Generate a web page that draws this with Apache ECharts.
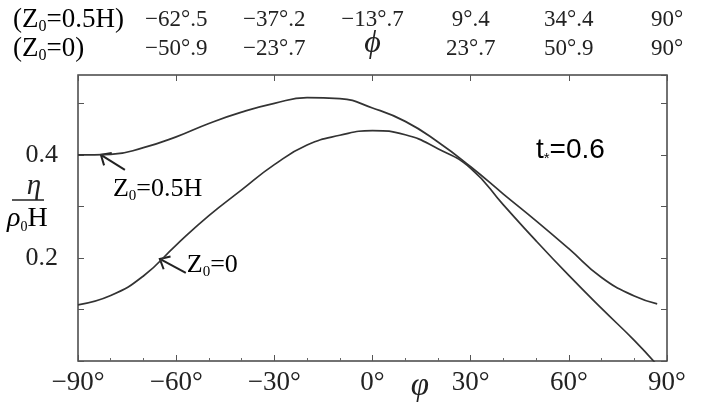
<!DOCTYPE html>
<html>
<head>
<meta charset="utf-8">
<script src="https://cdn.jsdelivr.net/npm/echarts@6/dist/echarts.min.js"></script>
<style>
  html, body { margin: 0; padding: 0; background: #fff; }
  #chart { width: 706px; height: 405px; }
</style>
</head>
<body>
<div id="chart"></div>
<script>
// Longitude φ (degrees) at which the surface elevation is sampled
const phi = [-90, -80, -70, -60, -50, -40, -30, -20, -10, 0, 10, 20, 30, 40, 50, 60, 70, 80, 87];
// η / (ρ0 H) for a source at Z0 = 0.5H
const etaHalfH = [0.400, 0.401, 0.414, 0.435, 0.461, 0.483, 0.500, 0.511, 0.509, 0.491, 0.465, 0.425, 0.377, 0.324, 0.272, 0.218, 0.162, 0.126, 0.111];
// η / (ρ0 H) for a source at Z0 = 0
const etaZ0 = [0.109, 0.127, 0.165, 0.225, 0.282, 0.332, 0.381, 0.419, 0.438, 0.447, 0.439, 0.412, 0.374, 0.303, 0.233, 0.166, 0.102, 0.040, -0.008];

// Tick labels
const bottomLabels = ['−90°', '−60°', '−30°', '0°', '30°', '60°', '90°'];
const topLabelsHalfH = ['', '−62°.5', '−37°.2', '−13°.7', '9°.4', '34°.4', '90°'];
const topLabelsZ0 = ['', '−50°.9', '−23°.7', '{big|ϕ}', '23°.7', '50°.9', '90°'];
const yLabels = ['', '', '0.2', '', '0.4', '', ''];

const SERIF = 'Liberation Serif';
const INK = '#222';
const LINE = '#333';

const chart = echarts.init(document.getElementById('chart'), null, { renderer: 'canvas' });

const idx30 = v => Math.round((v + 90) / 30);

const tickStyle = { inside: true, length: 6, lineStyle: { color: '#555', width: 1 } };
const noLine = { show: false, onZero: false };

chart.setOption({
  backgroundColor: '#fff',
  animation: false,
  grid: {
    left: 78, right: 39, top: 75, bottom: 44,
    show: true, borderColor: '#444', borderWidth: 1.5, backgroundColor: 'transparent'
  },
  xAxis: [
    {
      type: 'value', position: 'bottom', min: -90, max: 90, interval: 30,
      axisLine: noLine,
      axisTick: tickStyle,
      minorTick: { show: true, splitNumber: 3, length: 3, lineStyle: { color: '#666' } },
      splitLine: { show: false },
      axisLabel: {
        formatter: v => bottomLabels[idx30(v)] || '',
        fontFamily: SERIF, fontSize: 27, color: INK, margin: 8,
        showMinLabel: true, showMaxLabel: true, hideOverlap: false
      }
    },
    {
      type: 'value', position: 'top', min: -90, max: 90, interval: 30,
      axisLine: noLine,
      axisTick: tickStyle,
      splitLine: { show: false },
      axisLabel: {
        formatter: v => topLabelsZ0[idx30(v)] || '',
        fontFamily: SERIF, fontSize: 23, color: INK, margin: 15,
        showMinLabel: true, showMaxLabel: true, hideOverlap: false,
        rich: { big: { fontFamily: SERIF, fontStyle: 'italic', fontSize: 32, color: INK } }
      }
    },
    {
      type: 'value', position: 'top', min: -90, max: 90, interval: 30,
      axisLine: noLine,
      axisTick: { show: false },
      splitLine: { show: false },
      axisLabel: {
        formatter: v => topLabelsHalfH[idx30(v)] || '',
        fontFamily: SERIF, fontSize: 23, color: INK, margin: 44,
        showMinLabel: true, showMaxLabel: true, hideOverlap: false
      }
    }
  ],
  yAxis: [
    {
      type: 'value', position: 'left', min: 0, max: 0.555, interval: 0.1,
      axisLine: noLine,
      axisTick: tickStyle,
      splitLine: { show: false },
      axisLabel: {
        formatter: v => yLabels[Math.round(v * 10)] || '',
        fontFamily: SERIF, fontSize: 26, color: INK, margin: 20,
        showMaxLabel: false
      }
    },
    {
      type: 'value', position: 'right', min: 0, max: 0.555, interval: 0.1,
      axisLine: noLine,
      axisTick: tickStyle,
      splitLine: { show: false },
      axisLabel: { show: false }
    }
  ],
  series: [
    {
      name: 'Z0=0.5H', type: 'line', xAxisIndex: 0, yAxisIndex: 0,
      data: phi.map((p, i) => [p, etaHalfH[i]]),
      smooth: 0.5, symbol: 'none', clip: true,
      lineStyle: { color: LINE, width: 1.7 }
    },
    {
      name: 'Z0=0', type: 'line', xAxisIndex: 0, yAxisIndex: 0,
      data: phi.map((p, i) => [p, etaZ0[i]]),
      smooth: 0.5, symbol: 'none', clip: true,
      lineStyle: { color: LINE, width: 1.7 }
    }
  ]
});

// Annotation arrows: open chevron head on the curve, shaft running down-right
function arrow(head, dx, dy) {
  const tail = [head[0] + dx, head[1] + dy];
  const ang = Math.atan2(dy, dx);
  const len = 11, spread = 0.72;
  const a1 = [head[0] + len * Math.cos(ang + spread), head[1] + len * Math.sin(ang + spread)];
  const a2 = [head[0] + len * Math.cos(ang - spread), head[1] + len * Math.sin(ang - spread)];
  const st = { stroke: INK, lineWidth: 2, fill: null };
  return [
    { type: 'line', shape: { x1: tail[0], y1: tail[1], x2: head[0], y2: head[1] }, style: st },
    { type: 'polyline', shape: { points: [a1, head, a2] }, style: st }
  ];
}

const subRich = {
  m: { fontFamily: SERIF, fontSize: 26, color: INK, lineHeight: 30 },
  s: { fontFamily: SERIF, fontSize: 15, color: INK, lineHeight: 13, verticalAlign: 'bottom' }
};
const headerRich = {
  m: { fontFamily: SERIF, fontSize: 27, color: INK, lineHeight: 30 },
  s: { fontFamily: SERIF, fontSize: 16, color: INK, lineHeight: 13, verticalAlign: 'bottom' }
};

const head1 = chart.convertToPixel({ seriesIndex: 0 }, [-83, 0.400]);
const head2 = chart.convertToPixel({ seriesIndex: 1 }, [-65, 0.198]);

const graphics = [
  ...arrow(head1, 24, 15),
  {
    type: 'text', x: head1[0] + 12, y: head1[1] + 34,
    style: { text: '{m|Z}{s|0}{m|=0.5H}', rich: subRich, verticalAlign: 'middle' }
  },
  ...arrow(head2, 26, 14),
  {
    type: 'text', x: head2[0] + 27, y: head2[1] + 6,
    style: { text: '{m|Z}{s|0}{m|=0}', rich: subRich, verticalAlign: 'middle' }
  },
  // Row headers for the upper scale
  {
    type: 'text', x: 13, y: 20,
    style: { text: '{m|(Z}{s|0}{m|=0.5H)}', rich: headerRich, verticalAlign: 'middle' }
  },
  {
    type: 'text', x: 13, y: 49,
    style: { text: '{m|(Z}{s|0}{m|=0)}', rich: headerRich, verticalAlign: 'middle' }
  },
  // Parameter tag
  {
    type: 'text', x: 536, y: 150,
    style: {
      text: '{t|t}{s|*}{t|=0.6}', verticalAlign: 'middle',
      rich: {
        t: { fontFamily: 'Liberation Sans', fontSize: 28, color: INK, lineHeight: 32 },
        s: { fontFamily: 'Liberation Sans', fontSize: 15, color: INK, lineHeight: 10, verticalAlign: 'bottom' }
      }
    }
  },
  // Bottom axis symbol
  {
    type: 'text', x: 420, y: 386,
    style: { text: 'φ', fontFamily: SERIF, fontStyle: 'italic', fontSize: 33, fill: INK, align: 'center', verticalAlign: 'middle' }
  },
  // Vertical axis title: η over ρ0H
  {
    type: 'text', x: 34, y: 186,
    style: { text: 'η', fontFamily: SERIF, fontStyle: 'italic', fontSize: 29, fill: INK, align: 'center', verticalAlign: 'middle' }
  },
  {
    type: 'line', shape: { x1: 12, y1: 200, x2: 44, y2: 200 },
    style: { stroke: INK, lineWidth: 1.5 }
  },
  {
    type: 'text', x: 7, y: 219,
    style: {
      text: '{r|ρ}{s|0}{m|H}', verticalAlign: 'middle',
      rich: {
        r: { fontFamily: SERIF, fontStyle: 'italic', fontSize: 28, color: INK, lineHeight: 30 },
        m: { fontFamily: SERIF, fontSize: 28, color: INK, lineHeight: 30 },
        s: { fontFamily: SERIF, fontSize: 14, color: INK, lineHeight: 12, verticalAlign: 'bottom' }
      }
    }
  }
];

chart.setOption({ graphic: graphics });
</script>
</body>
</html>
